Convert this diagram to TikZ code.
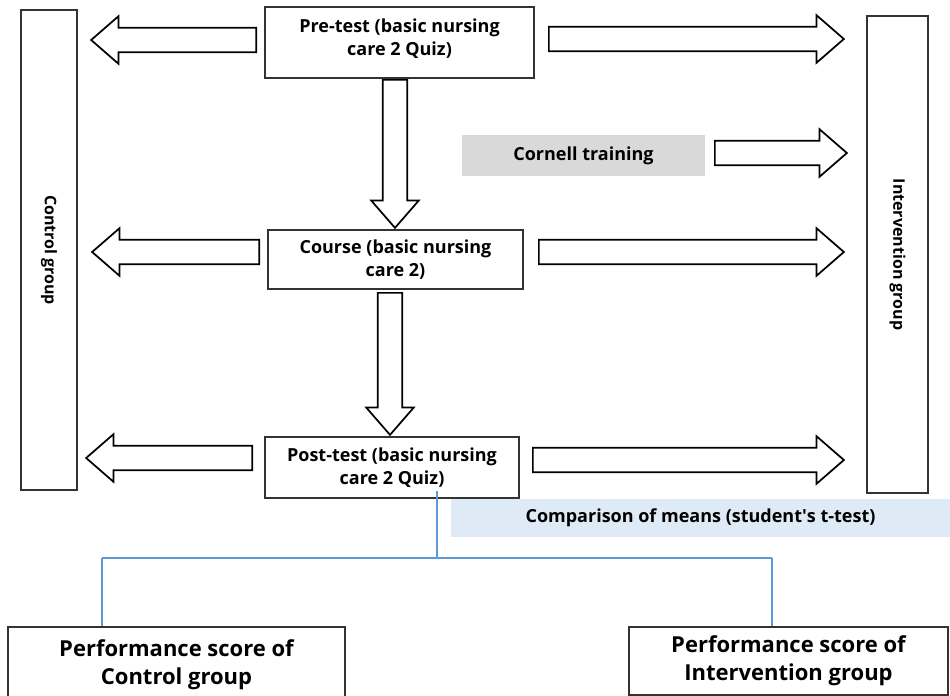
\documentclass[tikz,border=0pt]{standalone}
\usepackage{fontspec}
\setmainfont{Open Sans}
\usetikzlibrary{shapes.arrows, positioning}
\definecolor{boxGray}{RGB}{217,217,217}
\definecolor{meanBlue}{RGB}{222,234,246}
\definecolor{treeBlue}{RGB}{91,155,213}

\begin{document}
\begin{tikzpicture}[
  x=0.75pt, y=-0.75pt,
  stage/.style={
    draw=black!80,
    line width=0.8pt,
    align=center,
    inner sep=0pt,
    font=\bfseries\fontsize{13.5}{17}\selectfont
  },
  group/.style={
    draw=black!80,
    line width=0.8pt,
    rotate=-90,
    inner sep=0pt,
    font=\bfseries\fontsize{12}{15}\selectfont
  },
  band/.style={
    inner sep=0pt,
    font=\bfseries\fontsize{13.5}{17}\selectfont
  },
  score/.style={
    draw=black!80,
    line width=0.8pt,
    align=center,
    inner sep=0pt,
    font=\bfseries\fontsize{16.5}{21}\selectfont
  },
  fat/.style={
    single arrow,
    draw=black,
    line width=1.3pt,
    fill=white,
    anchor=tail,
    inner xsep=0pt,
    inner ysep=8.6pt,
    single arrow head extend=8.6pt,
    single arrow tip angle=82
  },
  tree/.style={draw=treeBlue, line width=0.8pt},
]
\useasboundingbox (0,0) rectangle (950,696);

% groups
\node[group, minimum width=480*0.75pt, minimum height=56*0.75pt]
(ctrl) at (49,250) {Control group};
\node[group, minimum width=477*0.75pt, minimum height=61*0.75pt]
(intv) at (897.5,254.5) {Intervention group};

% stages
\node[stage, minimum width=269*0.75pt, minimum height=71*0.75pt]
(pre) at (399.5,42.5) {Pre-test (basic nursing\\care 2 Quiz)\\[-9pt]};
\node[stage, minimum width=255*0.75pt, minimum height=59*0.75pt]
(course) at (395.5,259.5) {Course (basic nursing\\care 2)};
\node[stage, minimum width=254*0.75pt, minimum height=61*0.75pt]
(post) at (392,467.5) {Post-test (basic nursing\\care 2 Quiz)};

\node[band, fill=boxGray, minimum width=243*0.75pt, minimum height=41*0.75pt]
(cornell) at (583.5,155.5) {Cornell training};
\node[band, fill=meanBlue, minimum width=499*0.75pt, minimum height=38*0.75pt]
(means) at (700.5,518) {Comparison of means (student\textquotesingle s t-test)};

% block arrows, placed by their tails
\node[fat, shape border rotate=180, minimum height=165*0.75pt] (preL) at (257,40) {};
\node[fat, minimum height=295*0.75pt] (preR) at (548,39) {};
\node[fat, minimum height=132*0.75pt] (cornR) at (714,153) {};
\node[fat, shape border rotate=180, minimum height=167*0.75pt] (courseL) at (260,252) {};
\node[fat, minimum height=305*0.75pt] (courseR) at (538,252) {};
\node[fat, shape border rotate=180, minimum height=166*0.75pt] (postL) at (253,458) {};
\node[fat, minimum height=311*0.75pt] (postR) at (532,460) {};
\node[fat, rotate=-90, minimum height=148*0.75pt] (down1) at (395,79) {};
\node[fat, rotate=-90, minimum height=142*0.75pt] (down2) at (390,292) {};

% scores
\node[score, minimum width=337*0.75pt, minimum height=76*0.75pt]
(scoreC) at (176.5,665) {Performance score of\\Control group};
\node[score, minimum width=319*0.75pt, minimum height=68*0.75pt]
(scoreI) at (788.5,661) {Performance score of\\Intervention group};

% comparison tree
\coordinate (split) at (437,558);
\coordinate (jL) at (102,558);
\coordinate (jR) at (772,558);
\draw[tree] ([yshift=6pt]split |- post.south) -- (split);
\draw[tree] (jL) -- (jR);
\draw[tree] (jL) -- (jL |- scoreC.north);
\draw[tree] (jR) -- (jR |- scoreI.north);

\end{tikzpicture}
\end{document}
